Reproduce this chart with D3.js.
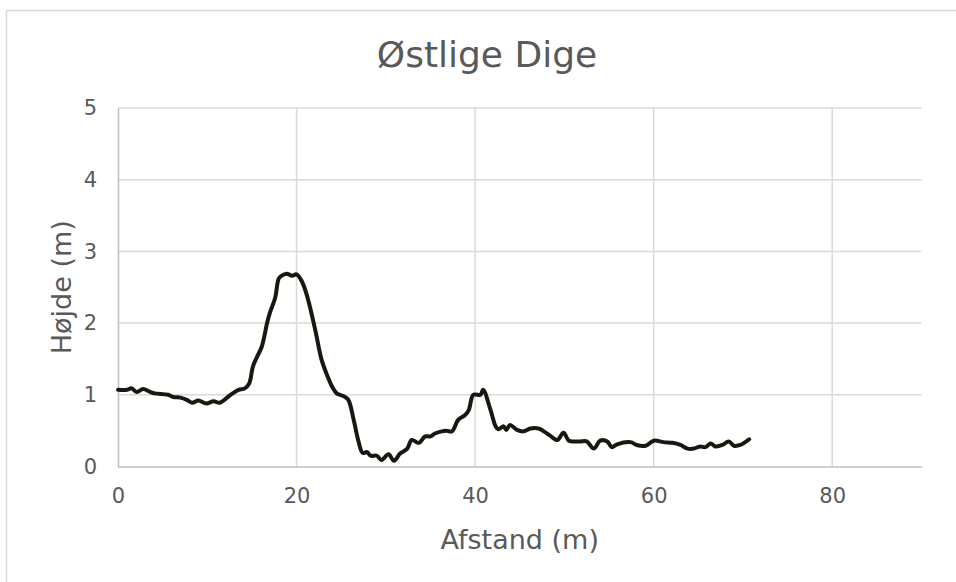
<!DOCTYPE html>
<html><head><meta charset="utf-8">
<script src="https://cdn.jsdelivr.net/npm/d3@7"></script>
<style>body{margin:0;background:#fff;}svg{display:block;font-family:"DejaVu Sans",Verdana,sans-serif;}</style>
</head><body>
<svg id="c" width="956" height="582"></svg>
<script>
const title = "Østlige Dige";
const xTitle = "Afstand (m)";
const yTitle = "Højde (m)";
const xTicks = [0, 20, 40, 60, 80];
const yTicks = [0, 1, 2, 3, 4, 5];
const distance = [0,1.0,1.5,2.1,2.8,3.6,4.1,5.6,6.2,7.0,7.7,8.3,9.0,9.9,10.7,11.4,12.6,13.5,14.2,14.7,15.1,15.5,16.1,16.7,17.0,17.6,18.0,18.3,18.9,19.5,20.0,20.6,21.2,22.1,22.8,23.4,24.0,24.5,25.3,25.8,26.4,26.9,27.4,27.9,28.3,29.0,29.5,30.3,30.9,31.6,32.4,32.9,33.7,34.4,35.0,35.5,36.7,37.4,38.1,38.9,39.3,39.8,40.6,40.9,41.7,42.3,42.6,43.2,43.5,43.9,44.7,45.4,46.2,47.1,47.7,48.4,49.2,49.9,50.5,51.2,51.8,52.5,53.3,54.0,54.8,55.3,55.9,57.4,58.1,59.1,60.0,61.1,62.1,63.0,63.8,64.5,65.2,65.8,66.4,66.9,67.7,68.4,69.0,69.7,70.7];
const height = [1.07,1.07,1.09,1.04,1.08,1.04,1.02,1.00,0.97,0.96,0.93,0.89,0.92,0.88,0.91,0.89,1.00,1.07,1.09,1.16,1.39,1.51,1.67,2.00,2.14,2.35,2.62,2.66,2.69,2.66,2.68,2.58,2.37,1.90,1.49,1.28,1.11,1.02,0.98,0.93,0.65,0.37,0.19,0.20,0.15,0.15,0.09,0.17,0.08,0.18,0.25,0.37,0.33,0.42,0.42,0.46,0.50,0.49,0.65,0.72,0.79,1.00,1.00,1.07,0.80,0.56,0.52,0.56,0.51,0.58,0.51,0.49,0.53,0.53,0.49,0.43,0.37,0.47,0.36,0.35,0.35,0.35,0.25,0.36,0.35,0.27,0.31,0.34,0.30,0.29,0.36,0.34,0.33,0.30,0.25,0.25,0.28,0.27,0.32,0.28,0.30,0.35,0.29,0.30,0.38];

const svg = d3.select("#c");
const pLeft = 118, pRight = 921.5, pTop = 108, pBottom = 466.5;
const x = d3.scaleLinear().domain([0, 90]).range([pLeft, pRight]);
const y = d3.scaleLinear().domain([0, 5]).range([pBottom, pTop]);

svg.append("rect").attr("x", 6.5).attr("y", 10.5).attr("width", 970).attr("height", 600)
  .attr("fill", "#fff").attr("stroke", "#d9d9d9").attr("stroke-width", 1.5);

svg.append("text").attr("x", 487).attr("y", 67).attr("text-anchor", "middle")
  .attr("font-size", 36).attr("fill", "#595959").text(title);

// gridlines
svg.append("g").selectAll("line").data(yTicks.filter(d => d > 0)).join("line")
  .attr("x1", pLeft).attr("x2", pRight).attr("y1", d => y(d)).attr("y2", d => y(d))
  .attr("stroke", "#d9d9d9").attr("stroke-width", 1.5);
svg.append("g").selectAll("line").data(xTicks.filter(d => d > 0)).join("line")
  .attr("y1", pTop).attr("y2", pBottom).attr("x1", d => x(d)).attr("x2", d => x(d))
  .attr("stroke", "#d9d9d9").attr("stroke-width", 1.5);

// axes
const fmt = d3.format("d");
const xAxis = svg.append("g").attr("transform", `translate(0,${pBottom})`)
  .call(d3.axisBottom(x).tickValues(xTicks).tickFormat(fmt).tickSize(0).tickPadding(22));
const yAxis = svg.append("g").attr("transform", `translate(${pLeft},0)`)
  .call(d3.axisLeft(y).tickValues(yTicks).tickFormat(fmt).tickSize(0).tickPadding(21));
xAxis.select(".domain").attr("stroke", "#bfbfbf").attr("stroke-width", 1.5);
yAxis.select(".domain").attr("stroke", "#bfbfbf").attr("stroke-width", 1.5);
[xAxis, yAxis].forEach(a => a.selectAll("text").attr("font-size", 21).attr("fill", "#595959")
  .attr("font-family", "DejaVu Sans, Verdana, sans-serif"));

svg.append("text").attr("x", (pLeft + pRight) / 2).attr("y", 549).attr("text-anchor", "middle")
  .attr("font-size", 27).attr("fill", "#595959").text(xTitle);
svg.append("text").attr("transform", `translate(71,${(pTop + pBottom) / 2}) rotate(-90)`)
  .attr("text-anchor", "middle").attr("font-size", 27).attr("fill", "#595959").text(yTitle);

const line = d3.line().x((d, i) => x(distance[i])).y(d => y(d)).curve(d3.curveCatmullRom.alpha(0.5));
svg.append("path").datum(height).attr("d", line).attr("fill", "none")
  .attr("stroke", "#141a10").attr("stroke-width", 4).attr("stroke-linejoin", "round").attr("stroke-linecap", "round");
</script>
</body></html>
